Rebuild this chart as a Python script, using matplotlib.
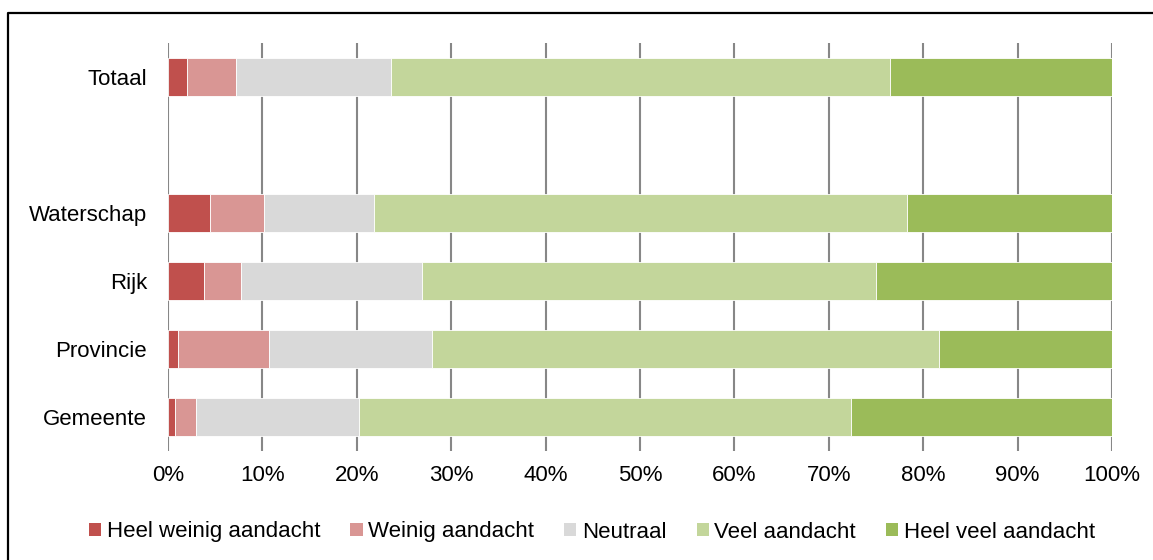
import numpy as np
import matplotlib.pyplot as plt
from matplotlib.lines import Line2D

plt.rcParams['font.family'] = ['Liberation Sans', 'DejaVu Sans']

categories = ["Gemeente", "Provincie", "Rijk", "Waterschap", "", "Totaal"]
series = ["Heel weinig aandacht", "Weinig aandacht", "Neutraal",
          "Veel aandacht", "Heel veel aandacht"]
# percentages per category (bottom to top), blank row has no bar
heel_weinig = [0.7, 1.1, 3.8, 4.4, 0, 2.0]
weinig = [2.3, 9.6, 3.9, 5.8, 0, 5.2]
neutraal = [17.2, 17.3, 19.2, 11.6, 0, 16.4]
veel = [52.2, 53.7, 48.1, 56.5, 0, 52.9]
heel_veel = [27.6, 18.3, 25.0, 21.7, 0, 23.5]
colors = ["#C0504D", "#D99694", "#D9D9D9", "#C3D69B", "#9BBB59"]
xticks = np.arange(0, 101, 10)

fig = plt.figure(figsize=(11.53, 5.6), dpi=100)
ax = fig.add_axes([168 / 1153, 1 - 451 / 560, 944 / 1153, 408 / 560])

y = np.arange(len(categories))
keep = np.array([c != "" for c in categories])
left = np.zeros(len(categories))
for name, vals, c in zip(series, [heel_weinig, weinig, neutraal, veel, heel_veel], colors):
    vals = np.array(vals)
    ax.barh(y[keep], vals[keep], left=left[keep], height=0.57, color=c,
            edgecolor="white", linewidth=0.6, label=name, zorder=3)
    left += vals

ax.set_xlim(0, 100)
ax.set_ylim(-0.5, len(categories) - 0.5)
ax.set_yticks(y)
ax.set_yticklabels(categories)
ax.set_xticks(xticks)
ax.set_xticklabels(["%d%%" % t for t in xticks])
ax.tick_params(axis="both", length=0, labelsize=16, colors="black")
ax.tick_params(axis="y", pad=15)
ax.tick_params(axis="x", pad=10)
ax.xaxis.grid(True, color="#878787", lw=1.5, zorder=0)
ax.set_axisbelow(True)
for s in ax.spines.values():
    s.set_visible(False)

leg = fig.legend(loc="center", bbox_to_anchor=(592 / 1153, 1 - 532 / 560),
                 ncol=5, frameon=False, fontsize=16, handlelength=0.55,
                 handleheight=0.55, handletextpad=0.25, columnspacing=1.35,
                 borderaxespad=0)
for h in leg.legend_handles:
    h.set_linewidth(0)

# outer frame, cut off at right and bottom
x0 = 8 / 1153
y0 = 1 - 13 / 560
fig.add_artist(Line2D([x0, x0, 1.01], [-0.01, y0, y0], transform=fig.transFigure,
                      color="black", lw=1.6, clip_on=False))

fig.savefig("out.png", dpi=100)
